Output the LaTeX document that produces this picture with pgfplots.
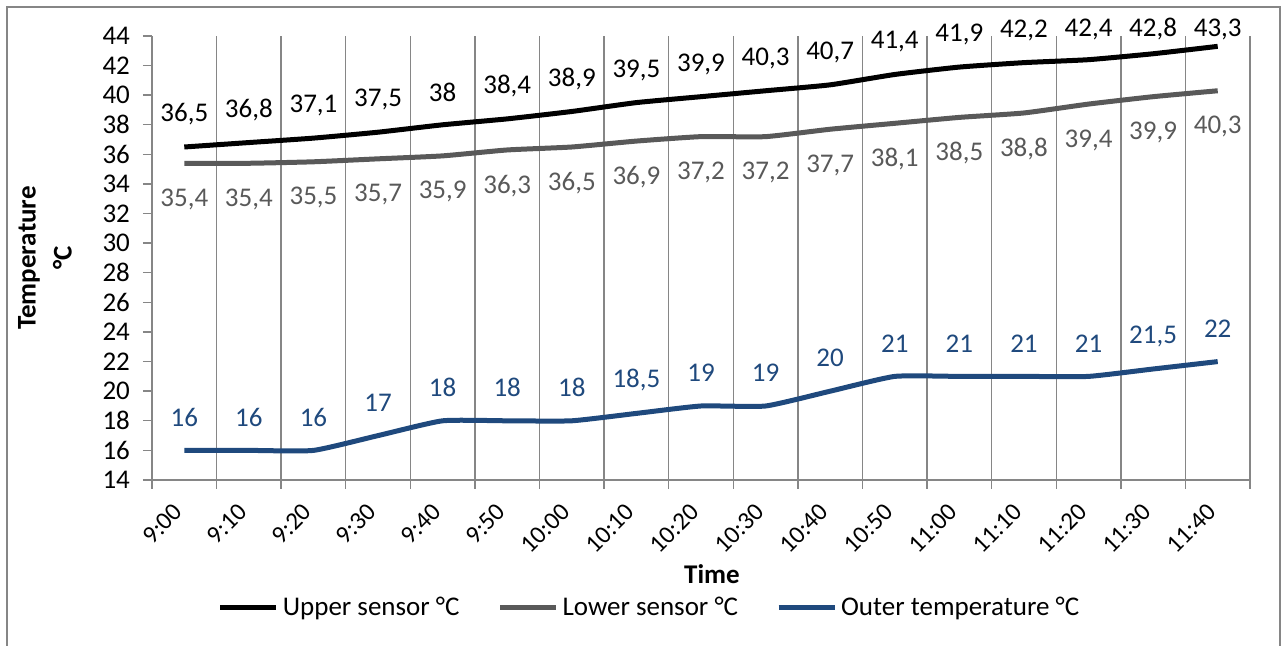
\documentclass[border=0pt]{standalone}
\usepackage{fontspec}
\setmainfont{Carlito}
\usepackage{pgfplots}
\usepackage{pgfplotstable}
\pgfplotsset{compat=1.18}
\usetikzlibrary{calc}
\definecolor{lowergray}{HTML}{595959}
\definecolor{outerblue}{HTML}{1F497D}
\definecolor{gridc}{HTML}{868686}
\pgfkeys{/pgf/number format/.cd, use comma, assume math mode=true}

\pgfplotstableread{
x  up   lo   out
0  36.5 35.4 16
1  36.8 35.4 16
2  37.1 35.5 16
3  37.5 35.7 17
4  38   35.9 18
5  38.4 36.3 18
6  38.9 36.5 18
7  39.5 36.9 18.5
8  39.9 37.2 19
9  40.3 37.2 19
10 40.7 37.7 20
11 41.4 38.1 21
12 41.9 38.5 21
13 42.2 38.8 21
14 42.4 39.4 21
15 42.8 39.9 21.5
16 43.3 40.3 22
}\temps

\newcommand\chartfont{\fontsize{13.5}{16}\selectfont}

\begin{document}
\begin{tikzpicture}[font=\chartfont]
\begin{axis}[
    name=ax,
    scale only axis,
    width=549pt, height=222pt,
    xmin=-0.5, xmax=16.5,
    ymin=14, ymax=44,
    ytick={14,16,...,44},
    xtick={0,...,16},
    xticklabels={9:00,9:10,9:20,9:30,9:40,9:50,10:00,10:10,10:20,10:30,10:40,10:50,11:00,11:10,11:20,11:30,11:40},
    minor xtick={-0.5,0.5,...,16.5},
    xminorgrids,
    minor grid style={gridc, line width=0.7pt},
    major x tick style={draw=none},
    minor x tick style={gridc, line width=0.7pt},
    minor tick length=4.5pt,
    major tick length=4.5pt,
    ytick style={gridc, line width=0.7pt},
    tick align=outside,
    axis x line*=bottom,
    axis y line*=left,
    axis line style={gridc, line width=0.7pt, -},
    tick label style={font=\chartfont},
    xticklabel style={font=\fontsize{12.5}{15}\selectfont, xshift=-6pt, yshift=-5pt, rotate=45, anchor=north east, inner sep=1pt},
    yticklabel style={xshift=-3pt},
    xlabel={Time},
    xlabel style={font=\chartfont\bfseries, at={(axis description cs:0.51,-0.212)}, anchor=center},
    ylabel={Temperature\\[3pt]°C},
    ylabel style={font=\fontsize{13.5}{15}\selectfont\bfseries, at={(axis description cs:-0.0975,0.5)},
        anchor=center, align=center},
    clip=false,
    legend columns=-1,
    legend style={draw=none, fill=none, font=\chartfont, at={(axis description cs:0.454,-0.288)}, anchor=center,
        /tikz/every even column/.append style={column sep=17pt}},
    legend cell align=left,
    legend image code/.code={\draw[#1] (0pt,0pt) -- (28pt,0pt);},
    every node near coord/.append style={font=\chartfont, anchor=center},
]
\addplot[black, line width=2.5pt, smooth, tension=0.3, nodes near coords,
    visualization depends on={y \as \yv},
    every node near coord/.append style={text=black, yshift={min(16.25,(44.47-\yv)*7.4)}}]
    table[x=x, y=up] {\temps};
\addlegendentry{Upper sensor °C}
\addplot[lowergray, line width=2.5pt, smooth, tension=0.3, nodes near coords,
    every node near coord/.append style={text=lowergray, yshift=-18pt}]
    table[x=x, y=lo] {\temps};
\addlegendentry{Lower sensor °C}
\addplot[outerblue, line width=2.5pt, smooth, tension=0.3, nodes near coords,
    every node near coord/.append style={text=outerblue, yshift=16.5pt}]
    table[x=x, y=out] {\temps};
\addlegendentry{Outer temperature °C}
\end{axis}
\draw[gridc, line width=1pt] ($(ax.south west)+(-72.5pt,-92pt)$) rectangle ($(ax.north east)+(14.75pt,14.5pt)$);
\pgfresetboundingbox
\path ($(ax.south west)+(-76pt,-83pt)$) rectangle ($(ax.north east)+(15.5pt,18pt)$);
\end{tikzpicture}
\end{document}
